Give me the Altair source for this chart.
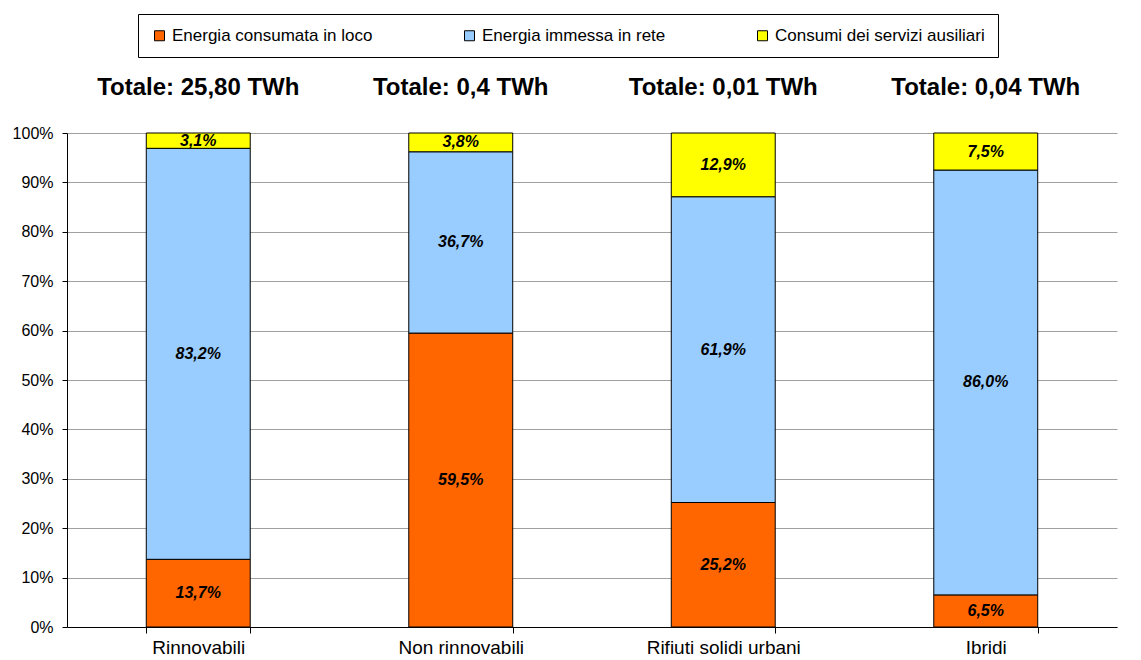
import altair as alt
import pandas as pd

categories = ["Rinnovabili", "Non rinnovabili", "Rifiuti solidi urbani", "Ibridi"]
totals = ["Totale: 25,80 TWh", "Totale: 0,4 TWh", "Totale: 0,01 TWh", "Totale: 0,04 TWh"]
series = ["Energia consumata in loco", "Energia immessa in rete", "Consumi dei servizi ausiliari"]
consumata = [13.7, 59.5, 25.2, 6.5]
immessa = [83.2, 36.7, 61.9, 86.0]
ausiliari = [3.1, 3.8, 12.9, 7.5]
colors = ["#FF6600", "#99CCFF", "#FFFF00"]
y_ticks = [0, 10, 20, 30, 40, 50, 60, 70, 80, 90, 100]

rows = []
for i, c in enumerate(categories):
    for j, (s, vals) in enumerate(zip(series, [consumata, immessa, ausiliari])):
        rows.append({"cat": c, "serie": s, "val": vals[i], "ord": j})
df = pd.DataFrame(rows)
df_tot = pd.DataFrame({"cat": categories, "tot": totals})

FONT = "Liberation Sans"

x_enc = alt.X(
    "cat:N",
    sort=categories,
    title=None,
    scale=alt.Scale(paddingInner=0.604, paddingOuter=0.302),
    axis=alt.Axis(
        labelAngle=0, labelFont=FONT, labelFontSize=19, labelColor="black",
        tickBand="extent", tickSize=6, tickColor="black", domainColor="black",
        labelPadding=5, grid=False,
    ),
)

bars = alt.Chart(df).mark_bar(stroke="black", strokeWidth=1).encode(
    x=x_enc,
    y=alt.Y(
        "val:Q", stack="zero", title=None,
        scale=alt.Scale(domain=[0, 100], nice=False),
        axis=alt.Axis(
            values=y_ticks, labelExpr="datum.value + '%'", labelFont=FONT,
            labelFontSize=16, labelColor="black", tickSize=5, tickColor="black",
            domainColor="black", gridColor="#A0A0A0", gridWidth=1, labelPadding=9,
        ),
    ),
    color=alt.Color(
        "serie:N",
        scale=alt.Scale(domain=series, range=colors),
        legend=alt.Legend(
            title=None, orient="none", direction="horizontal",
            legendX=71, legendY=-119, symbolType="square", symbolSize=100,
            symbolStrokeColor="black", symbolStrokeWidth=1, symbolOpacity=1,
            labelFont=FONT, labelFontSize=17, labelColor="black", labelOffset=4,
            labelLimit=400, columnPadding=88, padding=13,
            strokeColor="black", fillColor="white",
        ),
    ),
    order=alt.Order("ord:Q", sort="ascending"),
)

labels = alt.Chart(df).transform_stack(
    stack="val", groupby=["cat"], as_=["y0", "y1"],
    sort=[alt.SortField("ord", order="ascending")],
).transform_calculate(
    mid="(datum.y0 + datum.y1) / 2",
    lab="replace(format(datum.val, '.1f'), '.', ',') + '%'",
).mark_text(
    font=FONT, fontSize=16, fontWeight="bold", fontStyle="italic",
    color="black", baseline="middle",
).encode(
    x=alt.X("cat:N", sort=categories),
    y=alt.Y("mid:Q"),
    text="lab:N",
)

titles = alt.Chart(df_tot).mark_text(
    font=FONT, fontSize=24, fontWeight="bold", color="black",
    baseline="alphabetic", dy=-38,
).encode(
    x=alt.X("cat:N", sort=categories),
    y=alt.datum(100),
    text="tot:N",
)

chart = alt.layer(bars, labels, titles).properties(
    width=1050, height=494,
    autosize=alt.AutoSizeParams(type="none"),
    padding={"left": 59, "top": 125, "right": 16, "bottom": 33},
).configure_view(stroke=None)

chart.save("out.html", embed_options={"renderer": "svg", "actions": False})
